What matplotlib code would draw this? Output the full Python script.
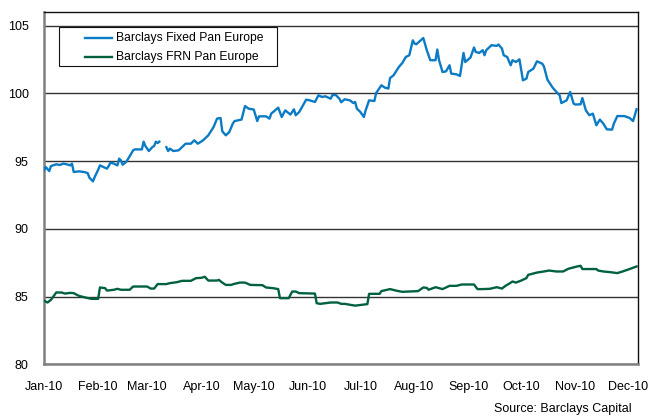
import numpy as np
import pandas as pd
import matplotlib
matplotlib.use("Agg")
import matplotlib.pyplot as plt
import matplotlib.dates as mdates
from matplotlib.patches import Rectangle
from matplotlib.lines import Line2D

start_date = "2010-01-01"
end_day = 340

fixed_days = [0, 1, 3, 4, 7, 9, 11, 13, 15, 16, 17, 20, 23, 25, 26, 28, 29, 31, 32, 34,
              36, 37, 38, 40, 42, 43, 44, 45, 47, 49, 51, 52, 55, 56, 57, 58, 60, 62, 63, 64,
              65, 66, 68, 70, 71, 72, 74, 77, 79, 81, 84, 86, 88, 91, 94, 97, 99, 101, 102, 104,
              106, 108, 109, 113, 115, 117, 120, 122, 123, 127, 129, 130, 134, 136, 138, 141, 143, 144, 146, 150,
              152, 155, 157, 159, 161, 164, 165, 167, 169, 170, 172, 175, 177, 178, 179, 181, 183, 184, 186, 189,
              190, 193, 195, 197, 198, 200, 203, 205, 207, 209, 211, 212, 213, 217, 219, 221, 224, 225, 226, 228,
              230, 232, 233, 236, 238, 240, 241, 244, 246, 247, 249, 251, 252, 253, 256, 259, 260, 262, 263, 265,
              267, 268, 270, 272, 274, 276, 277, 280, 282, 285, 286, 288, 291, 294, 295, 296, 299, 301, 303, 304,
              307, 308, 310, 312, 314, 316, 318, 320, 322, 325, 326, 328, 332, 335, 337, 339]
fixed_values = [94.31, 94.56, 94.26, 94.63, 94.76, 94.71, 94.81, 94.76, 94.68, 94.81, 94.19, 94.24, 94.19, 94.11, 93.77, 93.50, 93.82, 94.36, 94.68, 94.56,
                94.44, 94.63, 94.88, 94.81, 94.68, 95.18, 95.05, 94.73, 94.93, 95.35, 95.79, 95.86, 95.86, 95.86, 96.43, 96.11, 95.74, 96.03, 96.11, 96.43,
                96.33, 96.43, np.nan, 96.03, 95.74, 95.92, 95.74, 95.79, 96.03, 96.28, 96.28, 96.53, 96.28, 96.53, 96.90, 97.51, 98.13, 98.18, 97.19, 96.90,
                97.14, 97.76, 97.95, 98.06, 99.06, 98.87, 98.80, 97.95, 98.30, 98.30, 98.13, 98.50, 98.94, 98.25, 98.74, 98.43, 98.82, 98.38, 98.62, 99.53,
                99.48, 99.36, 99.85, 99.73, 99.78, 99.60, 99.87, 99.87, 99.60, 99.34, 99.56, 99.48, 99.28, 99.36, 98.87, 98.62, 98.25, 98.74, 99.48, 99.43,
                100.02, 100.59, 100.42, 100.35, 101.13, 101.33, 101.94, 102.24, 102.68, 102.81, 103.91, 103.67, 103.62, 104.08, 103.18, 102.44, 102.44, 103.23, 102.44, 101.57,
                101.62, 102.07, 101.45, 101.40, 101.28, 102.98, 102.31, 102.64, 103.38, 103.05, 102.98, 103.18, 102.81, 103.18, 103.55, 103.50, 103.60, 103.30, 102.81, 102.68,
                102.07, 102.44, 102.31, 102.51, 100.96, 101.08, 101.57, 101.82, 102.36, 102.19, 101.99, 101.01, 100.42, 99.98, 99.85, 99.28, 99.48, 100.10, 99.24, 99.17,
                99.19, 99.65, 98.74, 98.38, 98.50, 97.64, 98.06, 97.76, 97.34, 97.32, 97.76, 98.32, 98.32, 98.18, 97.95, 98.82]

frn_days = [0, 2, 4, 7, 10, 12, 15, 17, 20, 23, 27, 31, 32, 35, 36, 40, 42, 44, 49, 51,
            59, 61, 63, 65, 70, 72, 76, 79, 84, 87, 90, 92, 94, 99, 100, 102, 104, 107, 109, 112,
            115, 118, 125, 127, 131, 134, 135, 140, 142, 144, 146, 155, 156, 158, 164, 168, 170, 172, 178, 185,
            186, 192, 193, 198, 202, 205, 214, 217, 219, 220, 224, 226, 228, 232, 236, 239, 246, 248, 251, 255,
            259, 262, 264, 266, 268, 270, 273, 276, 277, 282, 286, 289, 293, 297, 300, 305, 307, 308, 316, 317,
            320, 324, 328, 331, 335, 339]
frn_values = [84.70, 84.56, 84.76, 85.30, 85.30, 85.22, 85.27, 85.25, 85.05, 84.95, 84.83, 84.83, 85.67, 85.62, 85.44, 85.50, 85.57, 85.50, 85.50, 85.74,
              85.74, 85.59, 85.59, 85.92, 85.92, 85.99, 86.06, 86.16, 86.16, 86.36, 86.38, 86.46, 86.18, 86.18, 86.23, 86.03, 85.86, 85.86, 85.94, 86.03,
              86.03, 85.86, 85.84, 85.67, 85.62, 85.55, 84.88, 84.88, 85.37, 85.37, 85.25, 85.22, 84.51, 84.46, 84.56, 84.56, 84.46, 84.46, 84.33, 84.44,
              85.20, 85.20, 85.40, 85.55, 85.42, 85.35, 85.40, 85.67, 85.64, 85.50, 85.69, 85.62, 85.55, 85.79, 85.79, 85.89, 85.89, 85.55, 85.55, 85.57,
              85.69, 85.59, 85.79, 85.94, 86.11, 86.03, 86.18, 86.36, 86.60, 86.77, 86.85, 86.92, 86.85, 86.85, 87.05, 87.22, 87.27, 87.03, 87.03, 86.92,
              86.85, 86.80, 86.73, 86.85, 87.03, 87.22]

series_labels = ["Barclays Fixed Pan Europe", "Barclays FRN Pan Europe"]
series_colors = ["#0a7bc4", "#00613f"]
y_ticks = [80, 85, 90, 95, 100, 105]
source_text = "Source: Barclays Capital"

base = pd.Timestamp(start_date)
fixed_x = base + pd.to_timedelta(fixed_days, unit="D")
frn_x = base + pd.to_timedelta(frn_days, unit="D")

plt.rcParams['font.family'] = ['Liberation Sans', 'DejaVu Sans']

W, H = 661, 419
fig = plt.figure(figsize=(W / 100, H / 100), dpi=100)
ax = fig.add_axes([44 / W, 1 - 364.3 / H, (638.3 - 44) / W, (364.3 - 12) / H])

ax.plot(fixed_x, fixed_values, color=series_colors[0], lw=1.7, zorder=3)
ax.plot(frn_x, frn_values, color=series_colors[1], lw=1.7, zorder=3)

ax.set_ylim(80, 106)
ax.set_xlim(base, base + pd.Timedelta(days=end_day))
ax.set_yticks(y_ticks)
ax.yaxis.grid(True, color="#333333", lw=1.0)
ax.set_axisbelow(True)

ax.xaxis.set_major_locator(mdates.MonthLocator())
ax.xaxis.set_major_formatter(mdates.DateFormatter("%b-%y"))
ax.tick_params(axis="x", length=0, pad=12, labelsize=9)
ax.tick_params(axis="y", length=0, pad=11, labelsize=9)

for side in ["left", "bottom"]:
    ax.spines[side].set_color("#808080")
    ax.spines[side].set_linewidth(1.8)
for side in ["top", "right"]:
    ax.spines[side].set_color("#111111")
    ax.spines[side].set_linewidth(1.0)

# legend box (drawn in figure pixel space)
def fx(px):
    return px / W

def fy(py):
    return 1 - py / H

fig.patches.append(Rectangle((fx(59.3), fy(66)), fx(277.3) - fx(59.3), fy(27.3) - fy(66),
                             transform=fig.transFigure, facecolor="white",
                             edgecolor="#111111", lw=0.8, zorder=5))
for i, (lab, col) in enumerate(zip(series_labels, series_colors)):
    yy = [38, 57.3][i]
    fig.lines.append(Line2D([fx(85), fx(112)], [fy(yy), fy(yy)], transform=fig.transFigure,
                            color=col, lw=1.7, zorder=6))
    fig.text(fx(116), fy(yy), lab, ha="left", va="center", fontsize=8.7, zorder=6)

fig.text(632 / W, 1 - 409 / H, source_text, ha="right", va="center", fontsize=9)

fig.savefig("out.png", dpi=100)
